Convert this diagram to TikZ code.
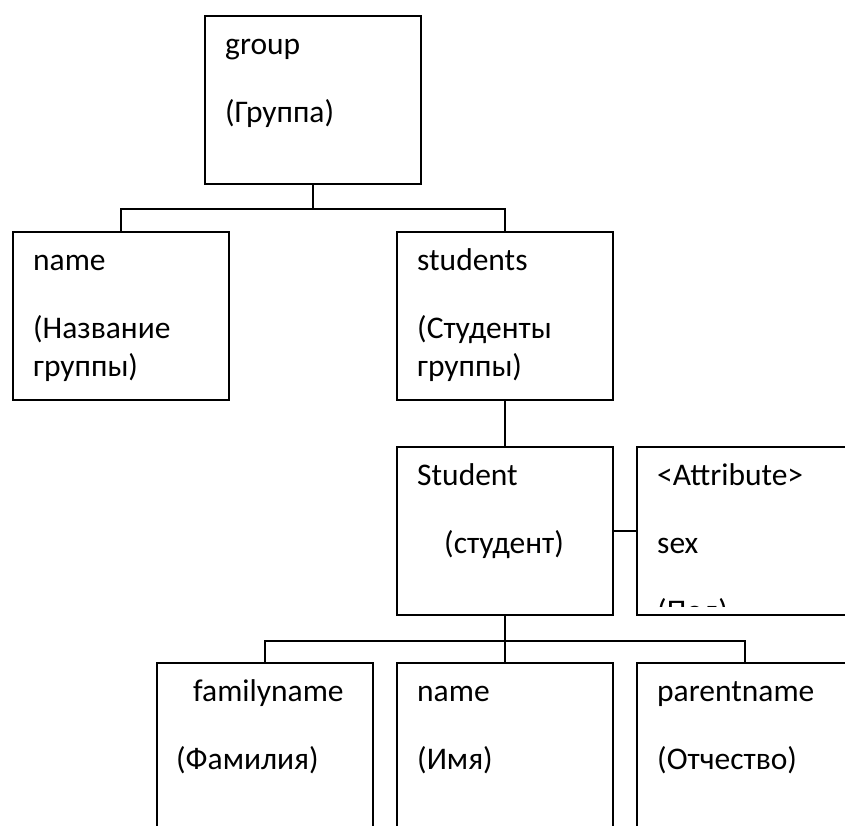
\documentclass[tikz,border=0pt]{standalone}
\usepackage{fontspec}
\setmainfont{Carlito}

\begin{document}
\begin{tikzpicture}[x=1pt, y=-1pt,
    box/.style={draw, rectangle, line width=1.8pt, minimum width=216pt, minimum height=168pt, anchor=north west, inner sep=0pt},
    txt/.style={anchor=base west, inner sep=0pt, font=\fontsize{31.5}{38}\selectfont},
    link/.style={line width=1.8pt}]
    \useasboundingbox (0,0) rectangle (845,825);
    \clip (0,0) rectangle (845,825);

    \node[box] (group) at (204,15) {};
    \node[box] (name) at (12,231) {};
    \node[box] (students) at (396,231) {};
    \node[box] (student) at (396,446) {};
    \node[box] (attr) at (636,446) {};
    \node[box] (family) at (156,662) {};
    \node[box] (first) at (396,662) {};
    \node[box] (parent) at (636,662) {};

    \node[txt] (groupA) at (225,54) {group};
    \node[txt] (groupB) at (225,122) {(Группа)};
    \node[txt] (nameA) at (33,270) {name};
    \node[txt] (nameB) at (33,338) {(Название};
    \node[txt] (nameC) at (33,376) {группы)};
    \node[txt] (studentsA) at (417,270) {students};
    \node[txt] (studentsB) at (417,338) {(Студенты};
    \node[txt] (studentsC) at (417,376) {группы)};
    \node[txt] (studentA) at (417,485) {Student};
    \node[txt] (studentB) at (444,553) {(студент)};
    \node[txt] (attrA) at (657,485) {<Attribute>};
    \node[txt] (attrB) at (657,553) {sex};
    \begin{scope}
        \clip (636,446) rectangle (852,606);
        \node[txt] (attrC) at (657,621) {(Пол)};
    \end{scope}
    \node[txt] (familyA) at (193,701) {familyname};
    \node[txt] (familyB) at (176,769) {(Фамилия)};
    \node[txt] (firstA) at (417,701) {name};
    \node[txt] (firstB) at (417,769) {(Имя)};
    \node[txt] (parentA) at (657,701) {parentname};
    \node[txt] (parentB) at (657,769) {(Отчество)};

    \draw[link] (group.south) -- ++(0,24) -| (name.north);
    \draw[link] (group.south) -- ++(0,24) -| (students.north);
    \draw[link] (students.south) -- (student.north);
    \draw[link] (student.east) -- (attr.west);
    \draw[link] (student.south) -- ++(0,25) -| (family.north);
    \draw[link] (student.south) -- ++(0,25) -| (first.north);
    \draw[link] (student.south) -- ++(0,25) -| (parent.north);
\end{tikzpicture}
\end{document}
